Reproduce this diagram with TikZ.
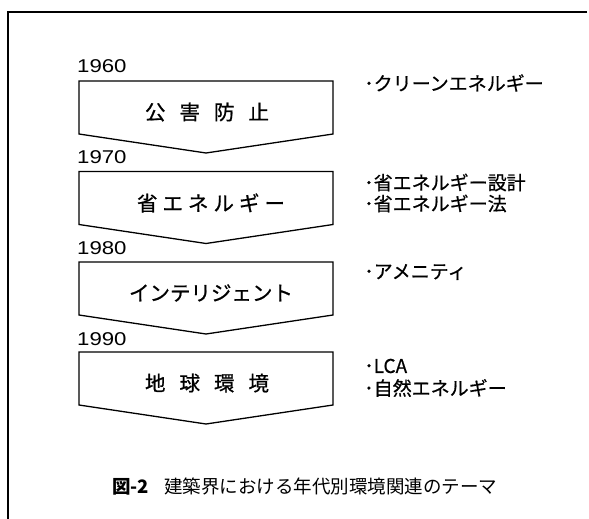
\documentclass[tikz,border=0pt]{standalone}
\usepackage{fontspec}
\setmainfont{Noto Sans CJK JP}
\newfontfamily\medfont[FakeBold=0.8]{Noto Sans CJK JP}
\newfontfamily\itemfont[FakeBold=0.6]{Noto Sans CJK JP}
\newfontfamily\yearfont[FakeStretch=1.2]{Liberation Sans}
\begin{document}
\begin{tikzpicture}[x=1pt,y=-1pt,
  frame/.style={line width=1.2pt,black},
  arrowbox/.style={draw=black,line width=1.3pt,line join=miter},
  yearlbl/.style={anchor=west,inner sep=0pt,font=\yearfont\fontsize{18.5}{18.5}\selectfont},
  boxtxt/.style={anchor=center,inner sep=0pt,font=\medfont\fontsize{20.5}{20.5}\selectfont},
  itemtxt/.style={anchor=west,inner sep=0pt,font=\itemfont\fontsize{19}{19}\selectfont},
  captxt/.style={anchor=west,inner sep=0pt,font=\fontsize{18.5}{18.5}\selectfont}]
\useasboundingbox (0,0) rectangle (589,519);
% frame
\coordinate (ftr) at (587,12);
\coordinate (ftl) at (8,12);
\coordinate (fbl) at (8,519);
\draw[frame] (ftr) -- (ftl) -- (fbl);
% boxes
\foreach \i/\t in {0/81,1/171.5,2/262,3/352}{
  \draw[arrowbox] (79,\t) -- (333,\t) -- (333,\t+53) -- (206,\t+72) -- (79,\t+53) -- cycle;
}
% years
\node[yearlbl] (y1) at (77,66.5) {1960};
\node[yearlbl] (y2) at (77,157) {1970};
\node[yearlbl] (y3) at (77,248) {1980};
\node[yearlbl] (y4) at (77,339) {1990};
% box texts
\node[boxtxt] (b1) at (207,112) {公\hspace{14pt}害\hspace{14pt}防\hspace{14pt}止};
\node[boxtxt] (b2) at (211,203) {省\hspace{5pt}エ\hspace{5pt}ネ\hspace{5pt}ル\hspace{5pt}ギ\hspace{5pt}ー};
\node[boxtxt] (b3) at (211,293) {インテリジェント};
\node[boxtxt] (b4) at (207,383) {地\hspace{14pt}球\hspace{14pt}環\hspace{14pt}境};
% item texts
\node[itemtxt] (i1) at (364,83) {･クリーンエネルギー};
\node[itemtxt] (i2) at (364,182.5) {･省エネルギー設計};
\node[itemtxt] (i3) at (364,203.5) {･省エネルギー法};
\node[itemtxt] (i4) at (364,272) {･アメニティ};
\node[itemtxt] (i5) at (364,366) {･LCA};
\node[itemtxt] (i6) at (364,388) {･自然エネルギー};
% caption
\node[captxt] (cap) at (112,487) {\textbf{図-2}\hspace{15pt}建築界における年代別環境関連のテーマ};
\end{tikzpicture}
\end{document}
